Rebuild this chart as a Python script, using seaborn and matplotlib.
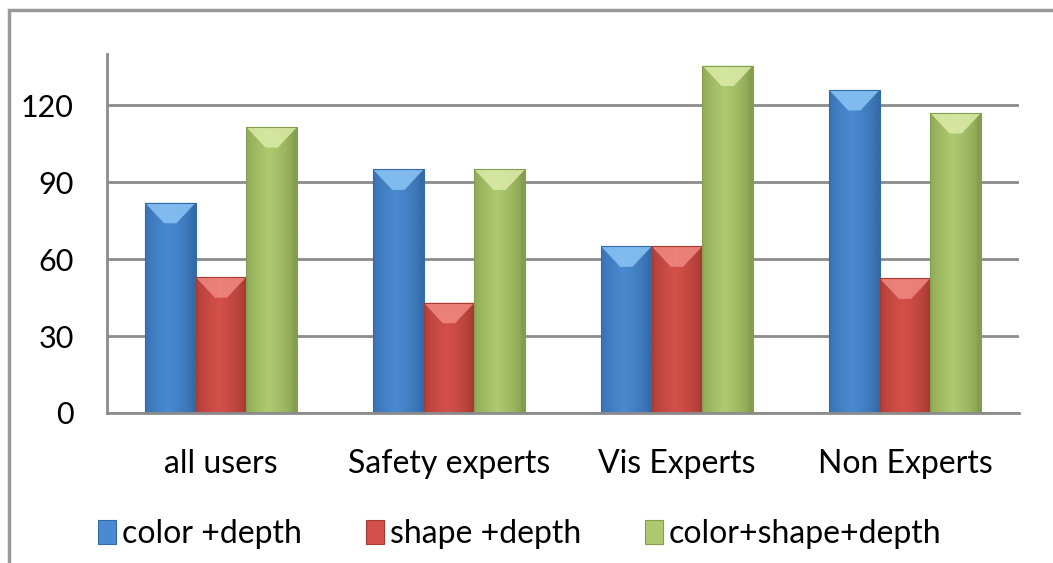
import numpy as np
import pandas as pd
import matplotlib.pyplot as plt
import matplotlib.colors as mcolors
from matplotlib.patches import Rectangle, Polygon
import seaborn as sns

# Data
groups = ["all users", "Safety experts", "Vis Experts", "Non Experts"]
series = ["color +depth", "shape +depth", "color+shape+depth"]
color_depth = [82, 95, 65, 126]
shape_depth = [53, 43, 65, 52.5]
color_shape_depth = [111.5, 95, 135.5, 117]
y_ticks = [0, 30, 60, 90, 120]

df = pd.DataFrame({
    "group": groups * 3,
    "series": [series[0]] * 4 + [series[1]] * 4 + [series[2]] * 4,
    "value": color_depth + shape_depth + color_shape_depth,
})

base_colors = ["#4A8AD0", "#D4504A", "#AEC96E"]
dark_colors = ["#336AA8", "#A63A33", "#849E4F"]
light_colors = ["#8CC4F5", "#F08A82", "#DCEBA8"]

sns.set_style("white")
plt.rcParams["font.family"] = ["Lato", "DejaVu Sans"]
plt.rcParams["text.color"] = "black"

fig = plt.figure(figsize=(10.53, 5.63), dpi=100)
ax = fig.add_axes([107 / 1053, 1 - 413 / 563, (1019 - 107) / 1053, (413 - 54) / 563])

sns.barplot(data=df, x="group", y="value", hue="series", order=groups,
            hue_order=series, palette=base_colors, width=2 / 3,
            saturation=1, linewidth=0, ax=ax, legend=True)

# bevel-ish shading on each bar
bar_patches = [p for p in ax.patches if p.get_height() > 0]
for i, p in enumerate(bar_patches):
    k = i // len(groups)
    x, w, h = p.get_x(), p.get_width(), p.get_height()
    c_dark = np.array(mcolors.to_rgb(dark_colors[k]))
    c_mid = np.array(mcolors.to_rgb(base_colors[k]))
    t = np.linspace(0, 1, 60)
    prof = np.clip(1 - np.abs(t - 0.45) * 2.0, 0, 1) ** 0.6
    grad = c_dark[None, :] * (1 - prof[:, None]) + c_mid[None, :] * prof[:, None]
    img = ax.imshow(grad[None, :, :], extent=(x, x + w, 0, h), aspect="auto",
                    zorder=p.get_zorder() + 0.1, interpolation="bilinear")
    img.set_clip_path(p)
    d = 8
    top = Polygon([(x, h), (x + w, h), (x + w * 0.62, h - d), (x + w * 0.38, h - d)],
                  closed=True, facecolor=light_colors[k], edgecolor="none",
                  alpha=0.85, zorder=p.get_zorder() + 0.2)
    ax.add_patch(top)
    ax.add_patch(Rectangle((x, 0), w, h, fill=False, edgecolor=dark_colors[k],
                           lw=0.8, zorder=p.get_zorder() + 0.3))

ax.set_xlim(-0.5, 3.5)
ax.set_ylim(0, 140)
ax.set_yticks(y_ticks)
ax.set_yticklabels([str(v) for v in y_ticks], fontsize=22)
ax.set_xticks(np.arange(-0.5, 4.0, 1.0))
ax.set_xticklabels([])
ax.set_xticks(range(len(groups)), minor=True)
ax.set_xticklabels(groups, minor=True, fontsize=23)
ax.tick_params(axis="x", which="minor", length=0, pad=26, labelcolor="black")
ax.tick_params(axis="x", which="major", length=9, width=2, color="#8c8c8c", direction="out")
ax.tick_params(axis="y", length=9, width=2, color="#8c8c8c", direction="out", pad=15,
               labelcolor="black")
ax.set_xlabel("")
ax.set_ylabel("")

ax.yaxis.grid(True, color="#8c8c8c", lw=2)
ax.set_axisbelow(True)
for s in ["top", "right"]:
    ax.spines[s].set_visible(False)
for s in ["left", "bottom"]:
    ax.spines[s].set_color("#8c8c8c")
    ax.spines[s].set_linewidth(2)

handles, labels = ax.get_legend_handles_labels()
ax.legend_.remove()
for hnd, dc in zip(handles, dark_colors):
    hnd.set_edgecolor(dc)
    hnd.set_linewidth(0.8)
fig.legend(handles, labels, loc="center", bbox_to_anchor=(520 / 1053, 1 - 534 / 563),
           ncol=3, frameon=False, fontsize=23, handlelength=0.55, handleheight=0.8,
           handletextpad=0.2, columnspacing=2.0)

fig.patches.append(Rectangle((9 / 1053, -0.1), 1.2, 1.1 - 10 / 563, transform=fig.transFigure,
                             fill=False, edgecolor="#999999", lw=2.5))

fig.savefig("out.png", dpi=100)
